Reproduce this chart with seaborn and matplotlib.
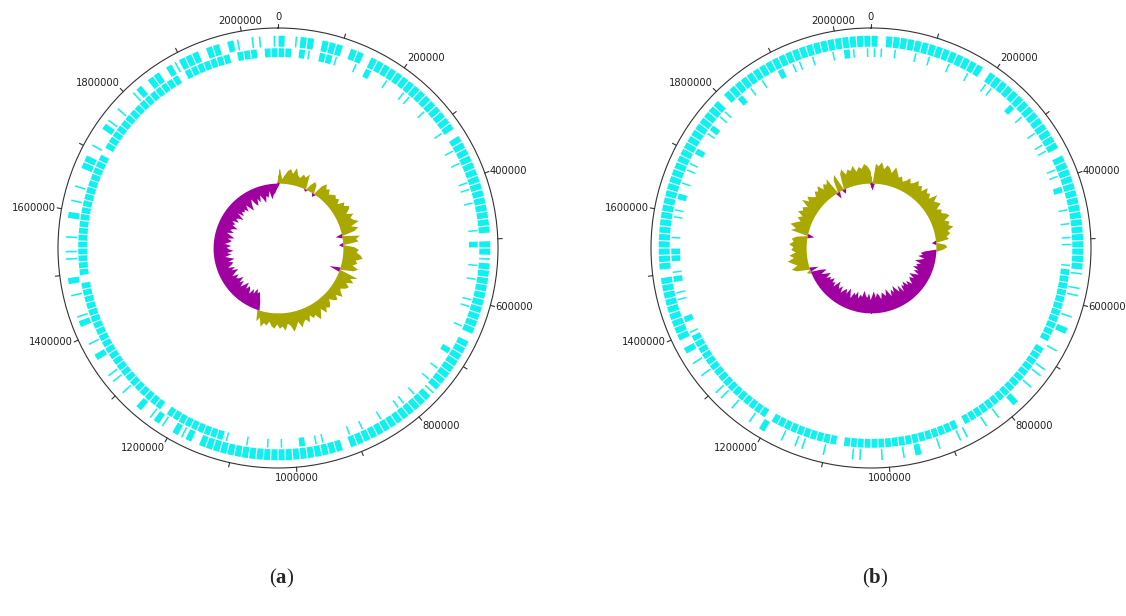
import numpy as np
import matplotlib
matplotlib.use("Agg")
import matplotlib.pyplot as plt
import seaborn as sns

# delka genomu (odhad z obrazku) a popisky na obvodu
genome_len = 2055000
major_ticks = [0, 200000, 400000, 600000, 800000, 1000000,
               1200000, 1400000, 1600000, 1800000, 2000000]
major_labels = [str(t) for t in major_ticks]
minor_ticks = [100000, 300000, 500000, 700000, 900000, 1100000,
               1300000, 1500000, 1700000, 1900000]
panel_labels = ["a", "b"]

# geny po 2 stupnich: '#' blok, '|' tenky gen, '.' nic
fwd_a = ("#.|##.###.##.##" + "#############.###########" + "###.##|###"
         + "#######.#######" + "#|#############.#######" + "############"
         + "#.#|#.|#"
         + "|.#..|.||..#" + ".|..#|..|.#." + ".||.|..#.|.|"
         + "..##.|..#|.|" + "..|#.##.#|##" + "#.##.#|.||.|")
rev_a = ("##.#|.##"
         + "|..|.#..|." + ".||..|...|" + "..|.|..||." + "|...|.#..|"
         + ".|..||..|." + "..#..|.|.." + "|.||..|..|" + ".|...||.#."
         + ".|.|..|..|"
         + "#########.############" + "##########.##########"
         + "########.############" + "###.#######.###.##")
fwd_b = ("#.##############.##############.################"
         + "|.||..|.#." + ".|..||.|.." + "#..|.|..||" + "..|..#.|.."
         + "|..||...|." + ".||.|..#.|" + "..|.||..|." + "|.#."
         + "#########.###############" + "##########.##############"
         + "########")
rev_b = ("||.|..|.|." + ".|..|..||." + "..#.|..|.|" + "|..||.#..|" + ".|.||..|"
         + "###########.################.#################.##########.################"
         + "|.#..||.#|" + ".##.|..||." + "#.|.||.#.." + "|#.||..#.|"
         + ".|..#.||.|" + "..|.#|.|")

# GC skew po 2 stupnich (kladne = zluta, zaporne = fialova)
skew_a = [0.07, 0.02, 0.04, 0.06, 0.07, 0.05, 0.08, 0.05, 0.04, 0.06,
          0.05, 0.07, -0.01, 0.03, 0.05, 0.04, -0.015, 0.05, 0.07, 0.05,
          0.06, 0.04, 0.05, 0.06, 0.05, 0.06, 0.04, 0.07, 0.06, 0.08,
          0.07, 0.05, 0.08, 0.06, 0.07, 0.09, 0.05, 0.08, 0.06, -0.03,
          0.08, 0.06, 0.07, -0.02, 0.05, 0.07, 0.06, 0.08, 0.09, 0.06,
          0.07, 0.05, 0.08, 0.06, -0.05, 0.09, 0.06, 0.08, 0.05, 0.07,
          0.06, 0.04, 0.05, 0.07, 0.04, 0.06, 0.05, 0.03, 0.05, 0.06,
          0.05, 0.07, 0.04, 0.06, 0.08, 0.05, 0.06, 0.04, 0.07, 0.05,
          0.06, 0.08, 0.05, 0.07, 0.09, 0.06, 0.05, 0.08, 0.06, 0.07,
          0.05, 0.07, 0.06, 0.04, 0.06, 0.05, 0.07, 0.03, 0.05,
          -0.04, -0.06, -0.08, -0.07, -0.09, -0.06, -0.08, -0.05, -0.07, -0.08,
          -0.06, -0.09, -0.07, -0.05, -0.08, -0.06, -0.09, -0.07, -0.06, -0.08,
          -0.05, -0.07, -0.09, -0.06, -0.08, -0.05, -0.07, -0.08, -0.06, -0.09,
          -0.07, -0.05, -0.08, -0.06, -0.09, -0.07, -0.06, -0.08, -0.05, -0.07,
          -0.08, -0.06, -0.09, -0.07, -0.05, -0.08, -0.06, -0.07, -0.09, -0.06,
          -0.07, -0.05, -0.08, -0.06, -0.07, -0.09, -0.05, -0.08, -0.06, -0.07,
          -0.06, -0.08, -0.05, -0.07, -0.09, -0.06, -0.04, -0.07, -0.08, -0.05,
          -0.07, -0.04, -0.06, -0.08, -0.05, -0.06, -0.03, -0.07, -0.05, -0.04, -0.02]
skew_b = [-0.03, 0.09, 0.08, 0.10, 0.07, 0.09, 0.08, 0.06, 0.09, 0.07,
          0.05, 0.06, 0.04, 0.05, 0.07, 0.05, 0.06, 0.08, 0.06, 0.07,
          0.05, 0.08, 0.06, 0.07, 0.05, 0.09, 0.06, 0.07, 0.08, 0.05,
          0.07, 0.06, 0.08, 0.09, 0.06, 0.08, 0.07, 0.09, 0.06, 0.07,
          0.05, 0.06, -0.02, 0.04, 0.05, 0.03,
          -0.05, -0.07, -0.06, -0.08, -0.05, -0.07, -0.09, -0.06, -0.08, -0.07,
          -0.09, -0.06, -0.08, -0.05, -0.07, -0.09, -0.06, -0.08, -0.07, -0.05,
          -0.08, -0.06, -0.09, -0.07, -0.08, -0.05, -0.09, -0.06, -0.08, -0.10,
          -0.07, -0.09, -0.06, -0.08, -0.10, -0.07, -0.08, -0.09, -0.06, -0.08,
          -0.09, -0.07, -0.10, -0.08, -0.06, -0.09, -0.07, -0.08, -0.10, -0.07,
          -0.08, -0.06, -0.09, -0.07, -0.08, -0.05, -0.07, -0.09, -0.06, -0.08,
          -0.07, -0.05, -0.08, -0.06, -0.07, -0.09, -0.05, -0.07, -0.06, -0.08,
          -0.06, -0.07, -0.05, -0.08, -0.06, -0.04, -0.07, -0.05, 0.02, -0.04,
          0.06, 0.08, 0.05, 0.07, 0.09, 0.06, 0.08, 0.05, 0.07, 0.06,
          0.08, 0.06, 0.07, 0.05, -0.03, 0.08, 0.06, 0.09, 0.07, 0.05,
          0.07, 0.05, 0.08, 0.06, 0.07, 0.05, 0.09, 0.06, 0.08, 0.06,
          0.05, 0.07, 0.06, 0.08, 0.05, 0.07, 0.06, 0.08, -0.03, 0.06,
          0.08, -0.02, 0.07, 0.09, 0.06, 0.08, 0.07, 0.09, 0.06, 0.08,
          0.07, 0.09, 0.08, 0.06]

sns.set_theme(style="white")
plt.rcParams['font.family'] = ['DejaVu Sans']
plt.rcParams['mathtext.fontset'] = 'custom'
plt.rcParams['mathtext.rm'] = 'Liberation Serif'
plt.rcParams['mathtext.bf'] = 'Liberation Serif:bold'

cyan, olive, purple = sns.color_palette(['#0ff0f0', '#a8a800', '#a0009f'])


def draw_genome(ax, fwd, rev, skew):
    ax.set_theta_zero_location('N')
    ax.set_theta_direction(-1)
    ax.set_ylim(0, 1)
    ax.grid(False)
    ax.set_xticks([])
    ax.set_yticks([])
    ax.set_facecolor('white')
    ax.spines['polar'].set_color('#333333')
    ax.spines['polar'].set_linewidth(0.8)

    # stopy genu (forward venku, reverse uvnitr)
    for track, bot, top in [(fwd, 0.915, 0.965), (rev, 0.868, 0.908)]:
        step = 2 * np.pi / len(track)
        th, wd = [], []
        for i, c in enumerate(track):
            if c == '#':
                th.append((i + 0.5) * step)
                wd.append(step * 0.84)
            elif c == '|':
                th.append((i + 0.5) * step)
                wd.append(step * 0.22)
        ax.bar(th, top - bot, width=wd, bottom=bot, color=cyan, linewidth=0)

    # GC skew kolem zakladni kruznice
    base = 0.295
    v = np.array(skew)
    step = 2 * np.pi / len(v)
    th = (np.arange(-1, len(v) + 1) + 0.5) * step
    v = np.concatenate([[v[-1]], v, [v[0]]])
    ax.fill_between(th, base, base + np.clip(v, 0, None), color=olive, linewidth=0)
    ax.fill_between(th, base + np.clip(v, None, 0), base, color=purple, linewidth=0)

    # znacky na obvodu
    for t in major_ticks + minor_ticks:
        a = 2 * np.pi * t / genome_len
        ax.plot([a, a], [1.0, 1.02], color='#333333', lw=0.8, clip_on=False)
    for t, lab in zip(major_ticks, major_labels):
        a = 2 * np.pi * t / genome_len
        s, c = np.sin(a), np.cos(a)
        ha = 'left' if s > 0.2 else ('right' if s < -0.4 else 'center')
        va = 'bottom' if c > 0.5 else ('top' if c < -0.5 else 'center')
        ax.text(a, 1.025, lab, ha=ha, va=va, fontsize=7.2, color='#222222',
                clip_on=False)


fig = plt.figure(figsize=(11.26, 6.16), dpi=100)
fig.patch.set_facecolor('white')
panels = [(278, fwd_a, rev_a, skew_a), (871, fwd_b, rev_b, skew_b)]
for (cx, fwd, rev, skew), lab in zip(panels, panel_labels):
    ax = fig.add_axes([(cx - 220) / 1126, (616 - 248 - 220) / 616, 440 / 1126, 440 / 616],
                      projection='polar')
    draw_genome(ax, fwd, rev, skew)
    fig.text((cx + 4) / 1126, 1 - 578 / 616, r'($\mathbf{' + lab + '}$)',
             ha='center', va='center', fontsize=15, family='Liberation Serif')

fig.savefig("out.png", dpi=100, facecolor='white')
